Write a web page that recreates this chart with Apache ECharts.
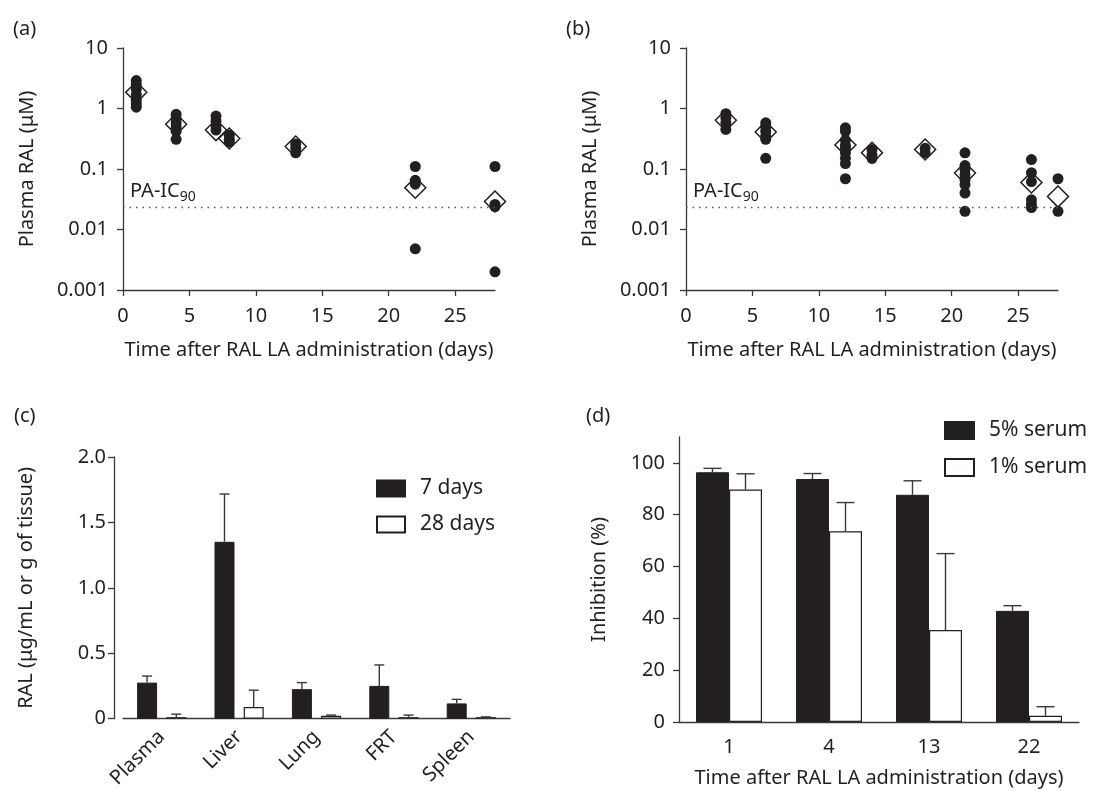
<!DOCTYPE html>
<html>
<head>
<meta charset="utf-8">
<script src="https://cdn.jsdelivr.net/npm/echarts@6/dist/echarts.min.js"></script>
<style>
  html, body { margin: 0; padding: 0; background: #fff; }
  #main { width: 1113px; height: 791px; }
</style>
</head>
<body>
<div id="main"></div>
<script>
var chart = echarts.init(document.getElementById('main'));

// (a) plasma RAL, first study
var aDays = [1, 4, 7, 8, 13, 22, 28];
var aPoints = [
    [2.9, 2.5, 2.1, 1.7, 1.4, 1.2, 1.05],
    [0.8, 0.68, 0.58, 0.5, 0.42, 0.31],
    [0.75, 0.62, 0.52, 0.44],
    [0.36, 0.31, 0.28],
    [0.26, 0.22, 0.185],
    [0.11, 0.065, 0.056, 0.0048],
    [0.11, 0.026, 0.024, 0.002]
];
var aMeans = [1.85, 0.55, 0.44, 0.32, 0.235, 0.049, 0.029];

// (b) plasma RAL, second study
var bDays = [3, 6, 12, 14, 18, 21, 26, 28];
var bPoints = [
    [0.82, 0.7, 0.58, 0.45],
    [0.58, 0.5, 0.42, 0.35, 0.31, 0.15],
    [0.48, 0.42, 0.3, 0.245, 0.22, 0.185, 0.15, 0.123, 0.069],
    [0.21, 0.17, 0.15],
    [0.22, 0.185],
    [0.185, 0.114, 0.097, 0.08, 0.066, 0.055, 0.04, 0.02],
    [0.143, 0.087, 0.062, 0.031, 0.026, 0.023],
    [0.069, 0.02]
];
var bMeans = [0.64, 0.41, 0.25, 0.185, 0.21, 0.086, 0.06, 0.035];

var paIC90 = 0.023;
var logTicks = [0.001, 0.01, 0.1, 1, 10];
var dayTicks = [0, 5, 10, 15, 20, 25];

// (c) tissue levels
var tissues = ['Plasma', 'Liver', 'Lung', 'FRT', 'Spleen'];
var day7 = [0.276, 1.352, 0.226, 0.251, 0.117];
var day7Err = [0.326, 1.717, 0.276, 0.411, 0.148];
var day28 = [0.012, 0.09, 0.022, 0.012, 0.012];
var day28Err = [0.035, 0.218, 0.028, 0.028, 0.014];

// (d) inhibition
var inhDays = ['1', '4', '13', '22'];
var serum5 = [96.4, 93.8, 87.7, 42.9];
var serum5Err = [97.9, 95.9, 93.1, 44.9];
var serum1 = [89.7, 73.6, 35.5, 2.4];
var serum1Err = [95.8, 84.7, 65, 5.9];
var inhTicks = [0, 20, 40, 60, 80, 100];

var ink = '#231f20';
var font = 'Noto Sans';
var fs = 20;
var axisLine = { lineStyle: { color: '#3a3a3a', width: 1.3 } };
var tickLine = { color: '#3a3a3a', width: 1.3 };
var nameStyle = { color: ink, fontSize: fs, fontFamily: font };

function dots(days, points) {
    var res = [];
    for (var i = 0; i < days.length; i++) {
        for (var j = 0; j < points[i].length; j++) {
            res.push([days[i], points[i][j]]);
        }
    }
    return res;
}
function pairs(days, vals) {
    return days.map(function (d, i) { return [d, vals[i]]; });
}
function logFmt(v) {
    return String(parseFloat(v.toPrecision(1)));
}

function meanSeries(idx, days, means) {
    return {
        type: 'scatter', xAxisIndex: idx, yAxisIndex: idx,
        symbol: 'diamond', symbolSize: 21, z: 2,
        itemStyle: { color: '#fff', borderColor: ink, borderWidth: 1.5, opacity: 1 },
        data: pairs(days, means),
        markLine: {
            silent: true, symbol: 'none', animation: false, precision: 4,
            lineStyle: { color: '#555', type: [1.5, 5], width: 1.3 },
            data: [{ yAxis: paIC90 }],
            label: {
                show: true, position: 'insideStartTop', distance: [7, 4],
                formatter: '{m|PA-IC}{s|90}',
                rich: {
                    m: { fontSize: fs, color: ink, fontFamily: font },
                    s: { fontSize: 14, color: ink, fontFamily: font, padding: [11, 0, 0, 0] }
                }
            }
        }
    };
}
function dotSeries(idx, days, points) {
    return {
        type: 'scatter', xAxisIndex: idx, yAxisIndex: idx,
        symbol: 'circle', symbolSize: 11, z: 3,
        itemStyle: { color: ink, opacity: 1 },
        data: dots(days, points)
    };
}
function errSeries(idx, vals, tops, offset, cap) {
    return {
        type: 'custom', xAxisIndex: idx, yAxisIndex: idx, z: 4,
        data: vals.map(function (v, i) { return [i, v, tops[i]]; }),
        renderItem: function (params, api) {
            var p0 = api.coord([api.value(0), api.value(1)]);
            var p1 = api.coord([api.value(0), api.value(2)]);
            var x = p0[0] + offset;
            var st = { stroke: '#3a3a3a', lineWidth: 1.4 };
            return {
                type: 'group',
                children: [
                    { type: 'line', shape: { x1: x, y1: p0[1], x2: x, y2: p1[1] }, style: st },
                    { type: 'line', shape: { x1: x - cap, y1: p1[1], x2: x + cap, y2: p1[1] }, style: st }
                ]
            };
        }
    };
}

function timeAxis(idx) {
    return {
        type: 'value', gridIndex: idx, min: 0, max: 28,
        name: 'Time after RAL LA administration (days)',
        nameLocation: 'middle', nameGap: 50, nameTextStyle: nameStyle,
        axisLine: axisLine, splitLine: { show: false },
        axisTick: { length: 6, lineStyle: tickLine, customValues: dayTicks },
        axisLabel: { color: ink, fontSize: fs, fontFamily: font, margin: 16, customValues: dayTicks }
    };
}
function logAxis(idx) {
    return {
        type: 'log', gridIndex: idx, logBase: 10, min: 0.001, max: 10,
        name: 'Plasma RAL (μM)', nameLocation: 'middle', nameGap: 86, nameTextStyle: nameStyle,
        axisLine: axisLine, splitLine: { show: false }, minorTick: { show: false },
        axisTick: { length: 6, lineStyle: tickLine, customValues: logTicks },
        axisLabel: { color: ink, fontSize: fs, fontFamily: font, margin: 15, formatter: logFmt, customValues: logTicks }
    };
}

var option = {
    backgroundColor: '#fff',
    animation: false,
    textStyle: { fontFamily: font },
    title: [
        { text: '(a)', left: 8, top: 14 },
        { text: '(b)', left: 561, top: 14 },
        { text: '(c)', left: 9, top: 401 },
        { text: '(d)', left: 581, top: 401 }
    ].map(function (t) {
        t.textStyle = { color: ink, fontSize: fs, fontWeight: 'normal', fontFamily: font };
        return t;
    }),
    grid: [
        { left: 123, top: 48, width: 372, height: 242 },
        { left: 686, top: 48, width: 372, height: 242 },
        { left: 123, top: 457, width: 387, height: 265 },
        { left: 679, top: 437, width: 400, height: 285 }
    ],
    legend: [
        {
            left: 371, top: 473, orient: 'vertical', itemWidth: 28, itemHeight: 16, itemGap: 15,
            icon: 'rect',
            textStyle: { color: ink, fontSize: 21, fontFamily: font, padding: [0, 0, 0, 10] },
            data: ['7 days', '28 days']
        },
        {
            left: 939, top: 415, orient: 'vertical', itemWidth: 29, itemHeight: 17, itemGap: 16,
            icon: 'rect',
            textStyle: { color: ink, fontSize: 21, fontFamily: font, padding: [0, 0, 0, 10] },
            data: ['5% serum', '1% serum']
        }
    ],
    xAxis: [
        timeAxis(0),
        timeAxis(1),
        {
            type: 'category', gridIndex: 2, data: tissues,
            axisLine: axisLine,
            axisTick: { alignWithLabel: true, length: 6, lineStyle: tickLine },
            axisLabel: { color: ink, fontSize: fs, fontFamily: font, rotate: 45, margin: 15, interval: 0 }
        },
        {
            type: 'category', gridIndex: 3, data: inhDays,
            name: 'Time after RAL LA administration (days)',
            nameLocation: 'middle', nameGap: 46, nameTextStyle: nameStyle,
            axisLine: axisLine,
            axisTick: { alignWithLabel: true, length: 6, lineStyle: tickLine },
            axisLabel: { color: ink, fontSize: fs, fontFamily: font, margin: 15 }
        }
    ],
    yAxis: [
        logAxis(0),
        logAxis(1),
        {
            type: 'value', gridIndex: 2, min: 0, max: 2, interval: 0.5, offset: 9,
            name: 'RAL (μg/mL or g of tissue)', nameLocation: 'middle', nameGap: 78, nameTextStyle: nameStyle,
            axisLine: { show: true, lineStyle: axisLine.lineStyle }, splitLine: { show: false },
            axisTick: { show: true, length: 6, lineStyle: tickLine },
            axisLabel: {
                color: ink, fontSize: fs, fontFamily: font, margin: 8,
                formatter: function (v) { return v === 0 ? '0' : v.toFixed(1); }
            }
        },
        {
            type: 'value', gridIndex: 3, min: 0, max: 110,
            name: 'Inhibition (%)', nameLocation: 'middle', nameGap: 70, nameTextStyle: nameStyle,
            axisLine: { show: true, lineStyle: axisLine.lineStyle }, splitLine: { show: false },
            axisTick: { show: true, length: 6, lineStyle: tickLine, customValues: inhTicks },
            axisLabel: { color: ink, fontSize: fs, fontFamily: font, margin: 14, customValues: inhTicks }
        }
    ],
    series: [
        meanSeries(0, aDays, aMeans),
        dotSeries(0, aDays, aPoints),
        meanSeries(1, bDays, bMeans),
        dotSeries(1, bDays, bPoints),
        {
            name: '7 days', type: 'bar', xAxisIndex: 2, yAxisIndex: 2,
            barWidth: 20, barGap: '46%',
            itemStyle: { color: ink, borderColor: ink, borderWidth: 1 },
            data: day7
        },
        {
            name: '28 days', type: 'bar', xAxisIndex: 2, yAxisIndex: 2,
            barWidth: 20, barGap: '46%',
            itemStyle: { color: '#fff', borderColor: ink, borderWidth: 1.2 },
            data: day28
        },
        errSeries(2, day7, day7Err, -14.6, 5),
        errSeries(2, day28, day28Err, 14.6, 5),
        {
            name: '5% serum', type: 'bar', xAxisIndex: 3, yAxisIndex: 3,
            barWidth: 33, barGap: 0,
            itemStyle: { color: ink, borderColor: ink, borderWidth: 1 },
            data: serum5
        },
        {
            name: '1% serum', type: 'bar', xAxisIndex: 3, yAxisIndex: 3,
            barWidth: 33, barGap: 0,
            itemStyle: { color: '#fff', borderColor: ink, borderWidth: 1.2 },
            data: serum1
        },
        errSeries(3, serum5, serum5Err, -16.5, 9),
        errSeries(3, serum1, serum1Err, 16.5, 9)
    ]
};
chart.setOption(option);
</script>
</body>
</html>
